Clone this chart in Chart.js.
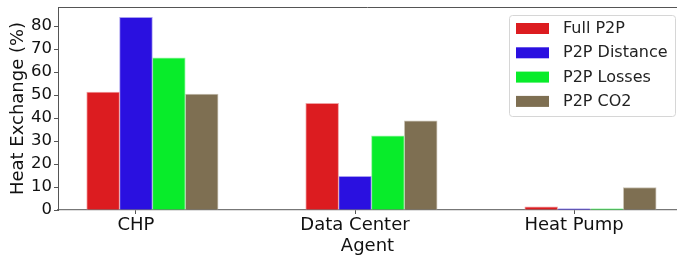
<!DOCTYPE html>
<html>
<head>
<meta charset="utf-8">
<script src="https://cdn.jsdelivr.net/npm/chart.js@4/dist/chart.umd.min.js"></script>
<style>
  html, body { margin: 0; padding: 0; background: #fff; overflow: hidden; }
  #wrap { width: 677px; height: 257px; }
</style>
</head>
<body>
<div id="wrap"><canvas id="heatChart"></canvas></div>
<script>
const agents = ["CHP", "Data Center", "Heat Pump"];
const seriesNames = ["Full P2P", "P2P Distance", "P2P Losses", "P2P CO2"];
const fullP2P = [51.3, 46.4, 1.4];
const p2pDistance = [83.8, 14.6, 0.5];
const p2pLosses = [66.2, 32.3, 0.5];
const p2pCO2 = [50.4, 38.8, 9.8];
const yTicks = [0, 10, 20, 30, 40, 50, 60, 70, 80];

const seriesValues = [fullP2P, p2pDistance, p2pLosses, p2pCO2];
const colors = ["#dc1c20", "#2a10e0", "#08ec2a", "#7e6f52"];
const edgeColors = ["#f0a0a2", "#a89ff0", "#9cf5a8", "#c9c2b4"];
const barStep = 0.15;
const font = "'DejaVu Sans', sans-serif";

const datasets = seriesValues.map((vals, k) => ({
  label: seriesNames[k],
  data: vals.map((v, i) => ({ x: i + (k - 1) * barStep, y: v })),
  backgroundColor: colors[k],
  borderColor: edgeColors[k],
  borderWidth: 1,
  grouped: false,
  categoryPercentage: 1,
  barPercentage: 1,
}));

// top spine + legend box inside the plot
const framePlugin = {
  id: "frame",
  afterDraw(chart) {
    const ctx = chart.ctx;
    const a = chart.chartArea;
    ctx.save();
    ctx.strokeStyle = "#555";
    ctx.lineWidth = 1;
    ctx.beginPath();
    ctx.moveTo(a.left, a.top + 0.5);
    ctx.lineTo(a.right, a.top + 0.5);
    ctx.stroke();

    const bx = 509.5, by = 15.5, bw = 166, bh = 101;
    ctx.fillStyle = "rgba(255,255,255,0.8)";
    ctx.strokeStyle = "#d6d6d6";
    ctx.beginPath();
    ctx.roundRect(bx, by, bw, bh, 3);
    ctx.fill();
    ctx.stroke();
    ctx.font = "16px " + font;
    ctx.textBaseline = "middle";
    chart.data.datasets.forEach((ds, k) => {
      const cy = 28 + k * 24.3;
      ctx.fillStyle = ds.backgroundColor;
      ctx.fillRect(516, cy - 5, 33, 11);
      ctx.fillStyle = "#222";
      ctx.fillText(ds.label, 563, cy + 1);
    });
    ctx.restore();
  },
};

new Chart(document.getElementById("heatChart"), {
  type: "bar",
  data: { datasets: datasets },
  plugins: [framePlugin],
  options: {
    responsive: true,
    maintainAspectRatio: false,
    animation: false,
    layout: { padding: { top: 7, right: 0, left: 0, bottom: 0 } },
    plugins: { legend: { display: false }, tooltip: { enabled: false } },
    scales: {
      x: {
        type: "linear",
        offset: false,
        min: -0.356,
        max: 2.47,
        afterBuildTicks: (axis) => {
          axis.ticks = agents.map((c, i) => ({ value: i }));
        },
        afterFit: (axis) => {
          axis.height = 47;
          axis.paddingLeft = 0;
          axis.paddingRight = 0;
        },
        ticks: {
          callback: (v) => agents[v],
          font: { family: font, size: 18 },
          color: "#111",
          padding: 1,
          maxRotation: 0,
        },
        grid: { display: true, offset: false, drawOnChartArea: false, tickLength: 4, color: "#555" },
        border: { display: true, color: "#777", width: 1.2 },
        title: {
          display: true,
          text: "Agent",
          font: { family: font, size: 18 },
          color: "#111",
          padding: { top: -5, bottom: 0 },
        },
      },
      y: {
        min: 0,
        max: 88.3,
        afterBuildTicks: (axis) => {
          axis.ticks = yTicks.map((v) => ({ value: v }));
        },
        afterFit: (axis) => {
          axis.width = 58;
          axis.paddingTop = 0;
          axis.paddingBottom = 0;
        },
        ticks: {
          font: { family: font, size: 16.5 },
          color: "#111",
          padding: 2,
        },
        grid: { display: true, drawOnChartArea: false, tickLength: 4, color: "#555" },
        border: { display: true, color: "#555", width: 1 },
        title: {
          display: true,
          text: "Heat Exchange (%)",
          font: { family: font, size: 18 },
          color: "#111",
          padding: { top: 8, bottom: 0 },
        },
      },
    },
  },
});
</script>
</body>
</html>
